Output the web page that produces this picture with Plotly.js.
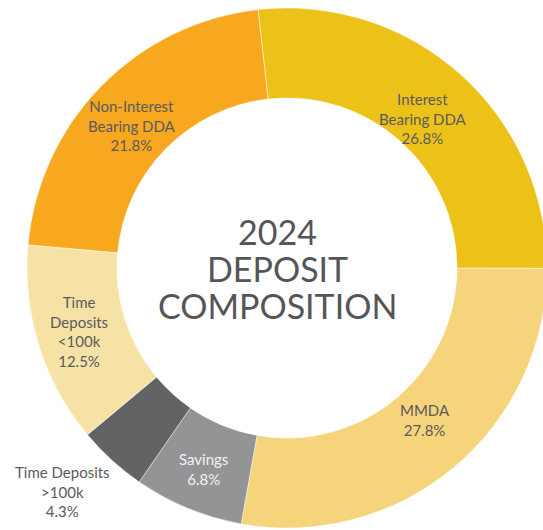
<!DOCTYPE html>
<html>
<head>
<meta charset="utf-8">
<script src="https://cdn.plot.ly/plotly-3.0.1.min.js"></script>
<style>
html, body { margin: 0; padding: 0; overflow: hidden; background: #ffffff; }
#chart { width: 573px; height: 536px; }
</style>
</head>
<body>
<div id="chart"></div>
<script>
const categories = ["Interest<br>Bearing DDA", "MMDA", "Savings", "Time Deposits<br>>100k", "Time<br>Deposits<br><100k", "Non-Interest<br>Bearing DDA"];
const shares = [26.8, 27.8, 6.8, 4.3, 12.5, 21.8];
const sliceColors = ["#ECC219", "#F5D47C", "#949497", "#636366", "#F7E2A6", "#F7A81F"];
const labelColors = ["#5a5a5e", "#5a5a5e", "#f2f2f2", "#5a5a5e", "#5a5a5e", "#5a5a5e"];
// label placement styling (distance from centre in px, small angular nudge in degrees)
const labelRadiusPx = [202, 205, 218, 317, 217, 211];
const labelAngleNudge = [0.6, -2.4, 0.2, 2.8, 0.4, -1.7];
const centerTitle = ["2024", "DEPOSIT", "COMPOSITION"];

const ROTATION = -6.4;
const PLOT_SIZE = 520;

const trace = {
  type: "pie",
  labels: categories,
  values: shares,
  sort: false,
  direction: "clockwise",
  rotation: ROTATION,
  hole: 0.654,
  marker: { colors: sliceColors, line: { color: "rgba(255,255,255,0.6)", width: 0.8 } },
  textinfo: "none",
  showlegend: false,
  hoverinfo: "label+value"
};

// slice labels placed at each slice's mid-angle (derived from the shares)
const total = shares.reduce((a, b) => a + b, 0);
let cum = 0;
const sliceLabels = shares.map((v, i) => {
  const mid = ROTATION + (cum + v / 2) / total * 360 + labelAngleNudge[i];
  cum += v;
  const rad = mid * Math.PI / 180;
  const r = labelRadiusPx[i] / PLOT_SIZE;
  return {
    text: categories[i] + "<br>" + v.toFixed(1) + "%",
    x: 0.5 + r * Math.sin(rad),
    y: 0.5 + r * Math.cos(rad),
    xref: "paper", yref: "paper",
    xanchor: "center", yanchor: "middle",
    showarrow: false,
    align: "center",
    font: { family: "Lato, sans-serif", size: 15, color: labelColors[i] }
  };
});

const titleLines = centerTitle.map((t, i) => ({
  text: t,
  x: 0.5, y: 0.5, xref: "paper", yref: "paper",
  xanchor: "center", yanchor: "middle",
  xshift: -10,
  yshift: (1 - i) * 37,
  showarrow: false,
  font: { family: "Lato, sans-serif", size: 34, color: "#555558" }
}));

const layout = {
  width: 573,
  height: 536,
  margin: { l: 27, r: 26, t: 8, b: 8 },
  paper_bgcolor: "#ffffff",
  plot_bgcolor: "#ffffff",
  showlegend: false,
  annotations: sliceLabels.concat(titleLines)
};

Plotly.newPlot("chart", [trace], layout, { displayModeBar: false, staticPlot: true });
</script>
</body>
</html>
